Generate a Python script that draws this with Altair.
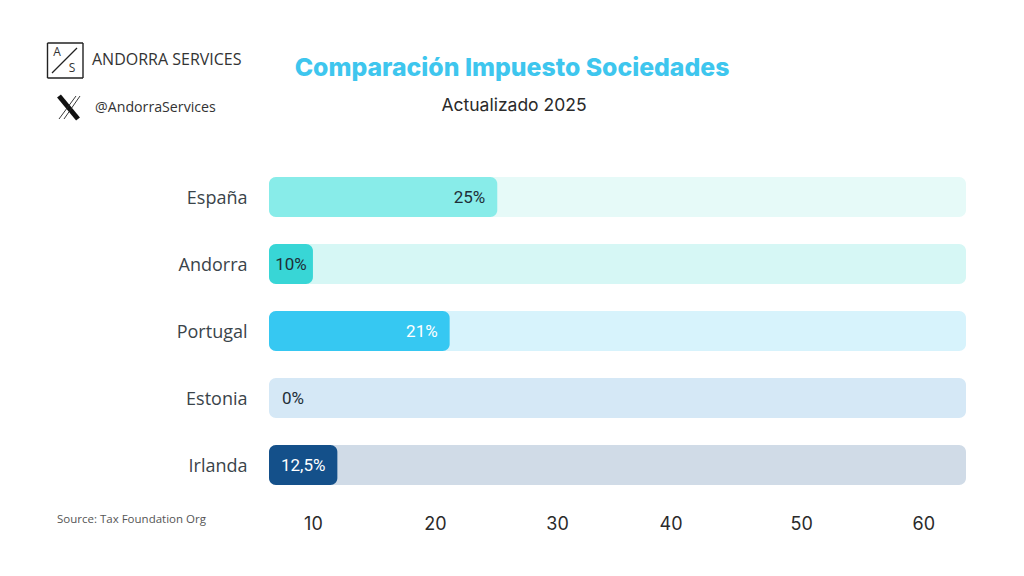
import altair as alt
import pandas as pd

paises = ["España", "Andorra", "Portugal", "Estonia", "Irlanda"]
valores = [25.1, 10, 21.2, 6.4, 12]
etiquetas = ["25%", "10%", "21%", "0%", "12,5%"]
color_barra = ["#88ECE9", "#38D6D6", "#36C8F2", "#D5E8F6", "#14508A"]
color_pista = ["#E6FAF8", "#D6F7F5", "#D7F3FC", "#D5E8F6", "#D0DBE7"]
ticks = [10, 20, 30, 39.3, 50, 60]
X0, X1 = 6.4, 63.5

df = pd.DataFrame({"pais": paises, "valor": valores, "etiqueta": etiquetas,
                   "base": X0, "fin": X1})
xs = alt.Scale(domain=[X0, X1], nice=False, zero=False)
ys = alt.Scale(domain=paises, paddingInner=0.403, paddingOuter=0)
base = alt.Chart(df)

yenc = alt.Y("pais:N", sort=paises, scale=ys, title=None,
             axis=alt.Axis(domain=False, ticks=False, labelFont="Open Sans", labelFontSize=18,
                           labelColor="#3a444a", labelPadding=22, labelOffset=2))
xenc = alt.X("base:Q", scale=xs, title=None,
             axis=alt.Axis(values=ticks, domain=False, ticks=False, grid=False,
                           labelFont="Inter", labelFontSize=18, labelColor="#2a2a2a",
                           labelPadding=30, labelFlush=False,
                           labelExpr="format(round(datum.value/10)*10,'d')"))

pista = base.mark_bar(cornerRadius=7).encode(
    x=xenc, x2="fin:Q", y=yenc,
    color=alt.Color("pais:N", scale=alt.Scale(domain=paises, range=color_pista), legend=None))
barra = base.transform_filter("datum.pais != 'Estonia'").mark_bar(cornerRadius=7).encode(
    x=alt.X("base:Q", scale=xs), x2="valor:Q", y=alt.Y("pais:N", sort=paises, scale=ys),
    color=alt.Color("pais:N", scale=alt.Scale(domain=paises, range=color_barra), legend=None))

tcolor = alt.condition("datum.pais == 'Portugal' || datum.pais == 'Irlanda'",
                       alt.value("#ffffff"), alt.value("#1f2f38"))
def t(**kw):
    return dict(font="Roboto", fontSize=17, baseline="middle", dy=1, **kw)
yy = alt.Y("pais:N", sort=paises, scale=ys)
t_der = base.transform_filter("datum.pais == 'España' || datum.pais == 'Portugal'").mark_text(
    **t(align="right", dx=-12)).encode(x=alt.X("valor:Q", scale=xs), y=yy, text="etiqueta:N", color=tcolor)
t_cen = base.transform_filter("datum.pais == 'Andorra' || datum.pais == 'Irlanda'").transform_calculate(
    m="(datum.base + datum.valor) / 2").mark_text(**t(align="center")).encode(
    x=alt.X("m:Q", scale=xs), y=yy, text="etiqueta:N", color=tcolor)
t_izq = base.transform_filter("datum.pais == 'Estonia'").mark_text(**t(align="left", dx=13)).encode(
    x=alt.X("valor:Q", scale=xs), y=yy, text="etiqueta:N", color=tcolor)

OX, OY = 269, 177
def txt(s, x, y, **kw):
    return alt.Chart(pd.DataFrame({"s": [s]})).mark_text(baseline="middle", **kw).encode(
        x=alt.value(x - OX), y=alt.value(y - OY), text="s:N")
def seg(x, y, x2, y2, color="#222222", w=1.2):
    return alt.Chart(pd.DataFrame({"a": [0]})).mark_rule(color=color, strokeWidth=w).encode(
        x=alt.value(x - OX), y=alt.value(y - OY), x2=alt.value(x2 - OX), y2=alt.value(y2 - OY))

deco = [
    txt("Comparación Impuesto Sociedades", 512, 69, font="Inter", fontSize=24.8, fontWeight=800,
        color="#3EC6EE", align="center"),
    txt("Actualizado 2025", 514, 106, font="Inter", fontSize=17.5, color="#2a2a2a", align="center"),
    txt("ANDORRA SERVICES", 92, 60, font="Open Sans", fontSize=16, color="#333333", align="left"),
    txt("@AndorraServices", 95, 108, font="Open Sans", fontSize=14.2, color="#333333", align="left"),
    txt("Source: Tax Foundation Org", 57, 520, font="Open Sans", fontSize=11.5, color="#555555", align="left"),
    txt("A", 57, 52, font="Open Sans", fontSize=12, color="#333333", align="center"),
    txt("S", 72, 68, font="Open Sans", fontSize=12, color="#333333", align="center"),
    seg(47.5, 43, 83, 43, w=1.4), seg(47.5, 78, 83, 78, w=1.4), seg(47.5, 43, 47.5, 78, w=1.4), seg(83, 43, 83, 78, w=1.4),
    seg(52, 73, 77, 48),
    seg(59, 96, 78, 119, color="#111111", w=5),
    seg(80, 96, 64, 119, color="#222222", w=0.9),
    seg(76, 96, 59, 119, color="#222222", w=0.9),
]

chart = alt.layer(pista, barra, t_der, t_cen, t_izq, *deco).resolve_scale(color="independent").properties(
    width=697, height=308, background="#ffffff",
    autosize=alt.AutoSizeParams(type="none"),
    padding={"left": 261, "top": 169, "right": 42, "bottom": 83},
).configure_view(stroke=None)

chart.save("out.html", embed_options={"renderer": "svg", "actions": False})
